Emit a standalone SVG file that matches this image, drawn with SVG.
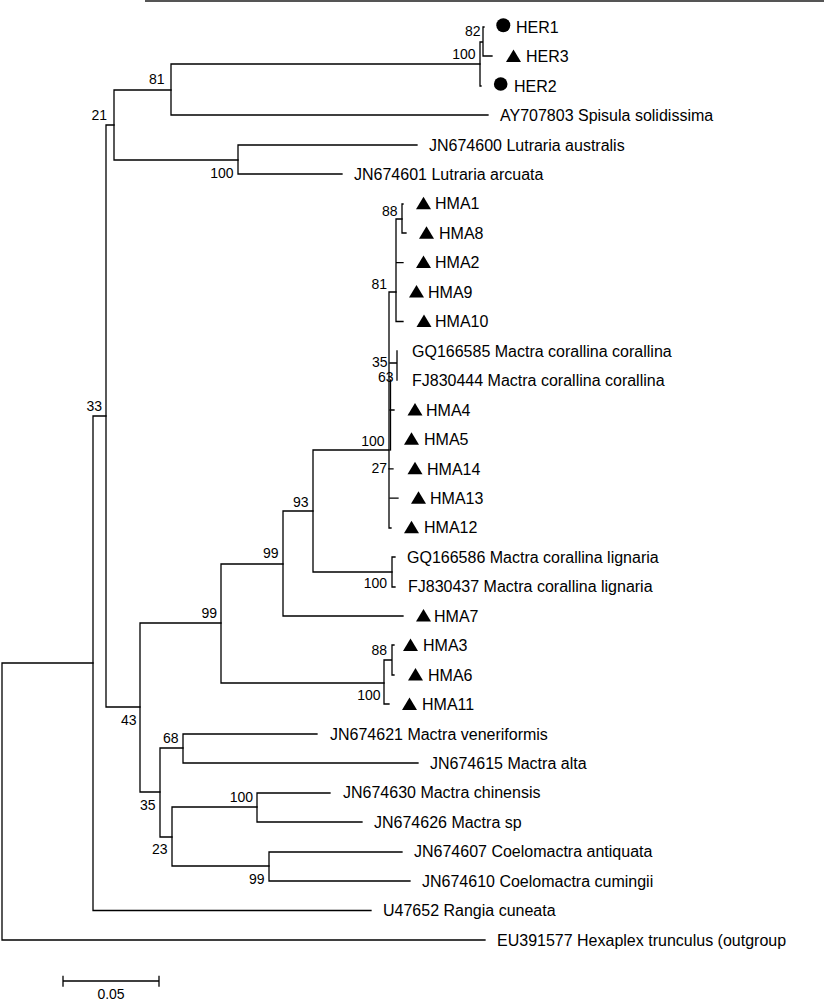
<svg xmlns="http://www.w3.org/2000/svg" xmlns:xlink="http://www.w3.org/1999/xlink" width="824" height="1000" viewBox="0 0 824 1000">
<style>
.e{stroke:#000;stroke-width:1.3;fill:none;stroke-linecap:square}
.t{font-family:"Liberation Sans",Arial,sans-serif;font-size:16px;fill:#000}
.b{font-family:"Liberation Sans",Arial,sans-serif;font-size:14px;fill:#000;text-anchor:end}
.m{fill:#000}
</style>
<defs>
<path id="tri" d="M0,-7 L7.5,5.5 L-7.5,5.5 Z"/>
</defs>
<rect width="824" height="1000" fill="#fff"/>
<line x1="145" y1="1" x2="824" y2="1" stroke="#555" stroke-width="2"/>
<g id="connectors" class="e">
<path d="M2,663V940H485M2,663H93"/>
<path d="M93,416V910.5H371M93,416H106"/>
<path d="M106,125V707M106,125H114M106,707H140"/>
<path d="M114,90V160M114,90H171M114,160H238"/>
<path d="M171,64V115H488M171,64H480"/>
<path d="M480,42V86H481M480,42H483M483,27V56H492M483,27H484"/>
<path d="M238,145V174H342M238,145H417"/>
<path d="M140,623V792H160M140,623H221"/>
<path d="M221,564V683H384M221,564H283"/>
<path d="M283,511V616H403M283,511H313"/>
<path d="M313,450V572H392M313,450H389"/>
<path d="M392,557V587H395M392,557H395"/>
<path d="M384,660V704H389M384,660H392M392,645V675H394M392,645H394"/>
<path d="M389,292V528H391M389,292H396"/>
<path d="M390.5,380V450"/>
<path d="M396,219V321.5H403M396,219H402M396,262.6H403"/>
<path d="M402,204V233H406M402,204H403"/>
<path d="M397,351V380M390,363H397"/>
<path d="M390,410H394M389,468.8H393M390,498.2H398"/>
<path d="M160,748V837M160,748H183M160,837H172"/>
<path d="M183,734V763H418M183,734H317"/>
<path d="M172,807V866H269M172,807H257"/>
<path d="M257,793V822H362M257,793H330"/>
<path d="M269,852V881H410M269,852H402"/>
</g>
<g id="bootstrap">
<g id="n_82a"><text class="b" x="480.5" y="36">82</text></g>
<g id="n_100a"><text class="b" x="475.5" y="58.5">100</text></g>
<g id="n_81a"><text class="b" x="164.5" y="84">81</text></g>
<g id="n_21"><text class="b" x="107" y="119.5">21</text></g>
<g id="n_100b"><text class="b" x="233.5" y="177.5">100</text></g>
<g id="n_33"><text class="b" x="102" y="410.7">33</text></g>
<g id="n_88a"><text class="b" x="397.5" y="215.7">88</text></g>
<g id="n_81b"><text class="b" x="387" y="288.5">81</text></g>
<g id="n_35a"><text class="b" x="387.5" y="366.7">35</text></g>
<g id="n_63"><text class="b" x="393.5" y="381.7">63</text></g>
<g id="n_100c"><text class="b" x="384.5" y="446">100</text></g>
<g id="n_27"><text class="b" x="387" y="472.7">27</text></g>
<g id="n_93"><text class="b" x="308.5" y="506.7">93</text></g>
<g id="n_99a"><text class="b" x="278.5" y="558.3">99</text></g>
<g id="n_100d"><text class="b" x="387" y="588.3">100</text></g>
<g id="n_99b"><text class="b" x="217" y="618.3">99</text></g>
<g id="n_88b"><text class="b" x="387" y="655">88</text></g>
<g id="n_100e"><text class="b" x="380.5" y="700">100</text></g>
<g id="n_43"><text class="b" x="136.5" y="725">43</text></g>
<g id="n_68"><text class="b" x="178.5" y="743.3">68</text></g>
<g id="n_35b"><text class="b" x="155.5" y="810">35</text></g>
<g id="n_100f"><text class="b" x="253" y="801.7">100</text></g>
<g id="n_23"><text class="b" x="167.5" y="854">23</text></g>
<g id="n_99c"><text class="b" x="264.5" y="884">99</text></g>
</g>
<g id="leaves">
<g id="HER1"><circle class="m" cx="503.3" cy="25.3" r="7"/><text class="t" x="516" y="32.7">HER1</text></g>
<g id="HER3"><use href="#tri" xlink:href="#tri" x="513.5" y="56.5"/><text class="t" x="526" y="62.2">HER3</text></g>
<g id="HER2"><circle class="m" cx="500.7" cy="84" r="6.8"/><text class="t" x="514" y="91.6">HER2</text></g>
<g id="AY707803"><text class="t" x="500" y="121">AY707803 Spisula solidissima</text></g>
<g id="JN674600"><text class="t" x="429" y="150.5">JN674600 Lutraria australis</text></g>
<g id="JN674601"><text class="t" x="354" y="180">JN674601 Lutraria arcuata</text></g>
<g id="HMA1"><use href="#tri" xlink:href="#tri" x="423.5" y="203.7"/><text class="t" x="435" y="209.4">HMA1</text></g>
<g id="HMA8"><use href="#tri" xlink:href="#tri" x="426.5" y="233.2"/><text class="t" x="439" y="238.9">HMA8</text></g>
<g id="HMA2"><use href="#tri" xlink:href="#tri" x="423.5" y="262.6"/><text class="t" x="435" y="268.3">HMA2</text></g>
<g id="HMA9"><use href="#tri" xlink:href="#tri" x="416.5" y="292"/><text class="t" x="428" y="297.7">HMA9</text></g>
<g id="HMA10"><use href="#tri" xlink:href="#tri" x="424" y="321.5"/><text class="t" x="435" y="327.2">HMA10</text></g>
<g id="GQ166585"><text class="t" x="412" y="356.7">GQ166585 Mactra corallina corallina</text></g>
<g id="FJ830444"><text class="t" x="412" y="386.1">FJ830444 Mactra corallina corallina</text></g>
<g id="HMA4"><use href="#tri" xlink:href="#tri" x="415" y="409.9"/><text class="t" x="426" y="415.6">HMA4</text></g>
<g id="HMA5"><use href="#tri" xlink:href="#tri" x="411.5" y="439.3"/><text class="t" x="424" y="445">HMA5</text></g>
<g id="HMA14"><use href="#tri" xlink:href="#tri" x="415" y="468.8"/><text class="t" x="427" y="474.5">HMA14</text></g>
<g id="HMA13"><use href="#tri" xlink:href="#tri" x="418.5" y="498.2"/><text class="t" x="430" y="503.9">HMA13</text></g>
<g id="HMA12"><use href="#tri" xlink:href="#tri" x="411.5" y="527.7"/><text class="t" x="424" y="533.4">HMA12</text></g>
<g id="GQ166586"><text class="t" x="407" y="562.8">GQ166586 Mactra corallina lignaria</text></g>
<g id="FJ830437"><text class="t" x="408" y="592.3">FJ830437 Mactra corallina lignaria</text></g>
<g id="HMA7"><use href="#tri" xlink:href="#tri" x="423.5" y="616"/><text class="t" x="434" y="621.7">HMA7</text></g>
<g id="HMA3"><use href="#tri" xlink:href="#tri" x="410.5" y="645.5"/><text class="t" x="423" y="651.2">HMA3</text></g>
<g id="HMA6"><use href="#tri" xlink:href="#tri" x="415.5" y="674.9"/><text class="t" x="428" y="680.6">HMA6</text></g>
<g id="HMA11"><use href="#tri" xlink:href="#tri" x="409.5" y="704.4"/><text class="t" x="422" y="710.1">HMA11</text></g>
<g id="JN674621"><text class="t" x="330" y="739.5">JN674621 Mactra veneriformis</text></g>
<g id="JN674615"><text class="t" x="430" y="769">JN674615 Mactra alta</text></g>
<g id="JN674630"><text class="t" x="343" y="798.4">JN674630 Mactra chinensis</text></g>
<g id="JN674626"><text class="t" x="374" y="827.9">JN674626 Mactra sp</text></g>
<g id="JN674607"><text class="t" x="414" y="857.3">JN674607 Coelomactra antiquata</text></g>
<g id="JN674610"><text class="t" x="422" y="886.8">JN674610 Coelomactra cumingii</text></g>
<g id="U47652"><text class="t" x="383" y="916.2">U47652 Rangia cuneata</text></g>
<g id="EU391577"><text class="t" x="497" y="945.7">EU391577 Hexaplex trunculus (outgroup</text></g>
</g>
<g id="scalebar">
<path class="e" d="M63,981H159M63,976.5V986M159,976.5V986"/>
<text class="b" style="text-anchor:middle" x="111" y="999">0.05</text>
</g>
</svg>
